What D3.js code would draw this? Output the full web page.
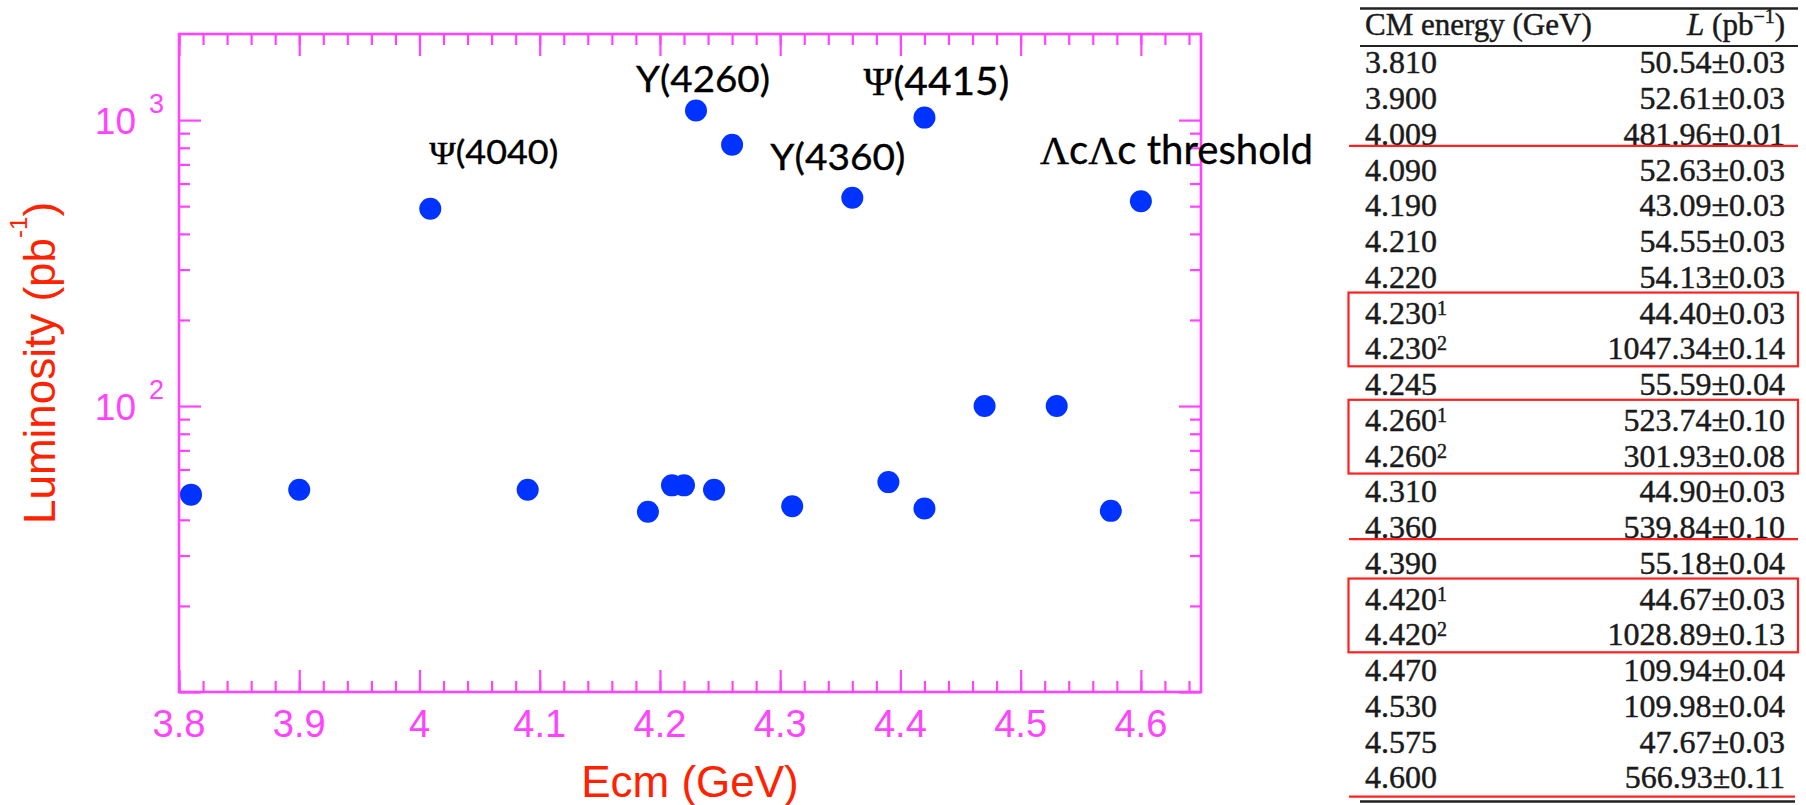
<!DOCTYPE html>
<html>
<head>
<meta charset="utf-8">
<script src="https://cdn.jsdelivr.net/npm/d3@7"></script>
<style>
  html, body { margin: 0; padding: 0; background: #ffffff; }
  svg { display: block; }
</style>
</head>
<body>
<svg id="chart" width="1806" height="805"></svg>
<script>
// ---- Scan points: centre-of-mass energy (GeV) and integrated luminosity (pb^-1)
const ecm  = [3.81, 3.90, 4.009, 4.09, 4.19, 4.21, 4.22, 4.23, 4.245, 4.26, 4.31, 4.36, 4.39, 4.42, 4.42, 4.47, 4.53, 4.575, 4.60];
const lumi = [49, 51, 490, 51, 42.7, 52.8, 52.8, 1080, 51, 820, 44.6, 535, 54.2, 1020, 43.8, 100, 100, 43, 520];

// ---- Axis ticks
const xMajorTicks = [3.8, 3.9, 4.0, 4.1, 4.2, 4.3, 4.4, 4.5, 4.6];
const xTickLabels = ["3.8", "3.9", "4", "4.1", "4.2", "4.3", "4.4", "4.5", "4.6"];
const xMinorTicks = d3.range(0, 43).map(i => +(3.8 + i * 0.02).toFixed(2));
const yMajorTicks = [10, 100, 1000];
const yLabelTicks = [100, 1000];
const yLabelExps  = ["2", "3"];
const yMinorTicks = [20, 30, 40, 50, 60, 70, 80, 90, 200, 300, 400, 500, 600, 700, 800, 900];

// ---- Resonance annotations and the energy of the point each one marks
const annoLabels = [["Ψ", "(4040)"], ["Y", "(4260)"], ["Y", "(4360)"], ["Ψ", "(4415)"], ["ΛcΛc", " threshold"]];
const annoEnergy = [4.009, 4.23, 4.36, 4.42, 4.60];

// ---- Luminosity table
const tableEnergy = ["3.810","3.900","4.009","4.090","4.190","4.210","4.220","4.230","4.230","4.245","4.260","4.260","4.310","4.360","4.390","4.420","4.420","4.470","4.530","4.575","4.600"];
const tableRun    = ["","","","","","","","1","2","","1","2","","","","1","2","","","",""];
const tableLumi   = ["50.54±0.03","52.61±0.03","481.96±0.01","52.63±0.03","43.09±0.03","54.55±0.03","54.13±0.03","44.40±0.03","1047.34±0.14","55.59±0.04","523.74±0.10","301.93±0.08","44.90±0.03","539.84±0.10","55.18±0.04","44.67±0.03","1028.89±0.13","109.94±0.04","109.98±0.04","47.67±0.03","566.93±0.11"];
const tableRuleRows = [2, 13];
const tableBoxRows  = [[7, 8], [10, 11], [15, 16]];

// ---------------------------------------------------------------
const MAGENTA = "#ff44ff", RED = "#ff2200", BLUE = "#0033ff";
const svg = d3.select("#chart");

const plot = { left: 179, right: 1201, top: 34, bottom: 692 };
const x = d3.scaleLinear().domain([3.8, 4.65]).range([plot.left, plot.right]);
const y = d3.scaleLog().domain([10, 2000]).range([plot.bottom, plot.top]);

function styleAxis(g) {
  g.select(".domain").remove();
  g.selectAll(".tick line").attr("stroke", MAGENTA).attr("stroke-width", 2.2);
  g.selectAll(".tick text").remove();
}

// X axis: bottom and top, ticks pointing into the frame
svg.append("g").attr("transform", `translate(0,${plot.bottom})`)
  .call(d3.axisBottom(x).tickValues(xMinorTicks).tickSizeInner(-11).tickSizeOuter(0)).call(styleAxis);
svg.append("g").attr("transform", `translate(0,${plot.bottom})`)
  .call(d3.axisBottom(x).tickValues(xMajorTicks).tickSizeInner(-22).tickSizeOuter(0)).call(styleAxis);
svg.append("g").attr("transform", `translate(0,${plot.top})`)
  .call(d3.axisTop(x).tickValues(xMinorTicks).tickSizeInner(-11).tickSizeOuter(0)).call(styleAxis);
svg.append("g").attr("transform", `translate(0,${plot.top})`)
  .call(d3.axisTop(x).tickValues(xMajorTicks).tickSizeInner(-22).tickSizeOuter(0)).call(styleAxis);

// Y axis: left and right
svg.append("g").attr("transform", `translate(${plot.left},0)`)
  .call(d3.axisLeft(y).tickValues(yMinorTicks).tickSizeInner(-11).tickSizeOuter(0)).call(styleAxis);
svg.append("g").attr("transform", `translate(${plot.left},0)`)
  .call(d3.axisLeft(y).tickValues(yMajorTicks).tickSizeInner(-22).tickSizeOuter(0)).call(styleAxis);
svg.append("g").attr("transform", `translate(${plot.right},0)`)
  .call(d3.axisRight(y).tickValues(yMinorTicks).tickSizeInner(-11).tickSizeOuter(0)).call(styleAxis);
svg.append("g").attr("transform", `translate(${plot.right},0)`)
  .call(d3.axisRight(y).tickValues(yMajorTicks).tickSizeInner(-22).tickSizeOuter(0)).call(styleAxis);

// Frame
svg.append("rect")
  .attr("x", plot.left).attr("y", plot.top)
  .attr("width", plot.right - plot.left).attr("height", plot.bottom - plot.top)
  .attr("fill", "none").attr("stroke", MAGENTA).attr("stroke-width", 2.6);

// X tick labels
svg.append("g").selectAll("text").data(xMajorTicks).join("text")
  .attr("x", d => x(d)).attr("y", plot.bottom + 45)
  .attr("text-anchor", "middle")
  .attr("font-family", "Liberation Sans, Arial, sans-serif").attr("font-size", 38)
  .attr("fill", MAGENTA)
  .text((d, i) => xTickLabels[i]);

// Y tick labels (10^n)
const yl = svg.append("g").selectAll("text").data(yLabelTicks).join("text")
  .attr("x", plot.left - 15).attr("y", d => y(d) + 13.5)
  .attr("text-anchor", "end")
  .attr("font-family", "Liberation Sans, Arial, sans-serif")
  .attr("fill", MAGENTA);
yl.append("tspan").attr("font-size", 37).text("10");
yl.append("tspan").attr("font-size", 27).attr("dx", 13).attr("dy", -21).text((d, i) => yLabelExps[i]);

// Axis titles
svg.append("text")
  .attr("x", (plot.left + plot.right) / 2).attr("y", 797)
  .attr("text-anchor", "middle")
  .attr("font-family", "Liberation Sans, Arial, sans-serif").attr("font-size", 44)
  .attr("fill", RED)
  .text("Ecm (GeV)");

const yt = svg.append("text")
  .attr("transform", `translate(55,${(plot.top + plot.bottom) / 2}) rotate(-90)`)
  .attr("text-anchor", "middle")
  .attr("font-family", "Liberation Sans, Arial, sans-serif").attr("font-size", 44)
  .attr("fill", RED);
yt.append("tspan").text("Luminosity (pb");
yt.append("tspan").attr("font-size", 24).attr("dy", -28).text("-1");
yt.append("tspan").attr("dy", 28).text(")");

// Data points
svg.append("g").selectAll("circle").data(ecm).join("circle")
  .attr("cx", d => x(d)).attr("cy", (d, i) => y(lumi[i]))
  .attr("r", 11).attr("fill", BLUE);

// Annotations, placed relative to the point they label
const annoLayout = [
  { dx: -1,   dy: -45, size: 32, width: 129 },
  { dx: -60,  dy: -19, size: 37, width: 134 },
  { dx: -82,  dy: -28, size: 36, width: 135 },
  { dx: -61,  dy: -23, size: 39, width: 146 },
  { dx: -101, dy: -37, size: 40, width: 273 }
];
annoLabels.forEach((parts, i) => {
  const idx = ecm.indexOf(annoEnergy[i]);
  const px = x(ecm[idx]), py = y(lumi[idx]);
  const L = annoLayout[i];
  const t = svg.append("text")
    .attr("x", px + L.dx).attr("y", py + L.dy)
    .attr("font-size", L.size).attr("fill", "#000")
    .attr("stroke", "#000").attr("stroke-width", 0.35)
    .attr("textLength", L.width).attr("lengthAdjust", "spacingAndGlyphs");
  if (parts[0] === "ΛcΛc") {
    t.append("tspan").attr("font-family", "Liberation Serif, serif").text("Λ");
    t.append("tspan").attr("font-family", "Lato, sans-serif").text("c");
    t.append("tspan").attr("font-family", "Liberation Serif, serif").text("Λ");
    t.append("tspan").attr("font-family", "Lato, sans-serif").text("c" + parts[1]);
  } else {
    t.append("tspan")
      .attr("font-family", parts[0] === "Ψ" ? "Liberation Serif, serif" : "Lato, sans-serif")
      .text(parts[0]);
    t.append("tspan").attr("font-family", "Lato, sans-serif").text(parts[1]);
  }
});

// ---- Table
const tbl = svg.append("g")
  .attr("font-family", "Liberation Serif, Times New Roman, serif")
  .attr("fill", "#1a1a1a").attr("stroke", "#1a1a1a").attr("stroke-width", 0.45);
const colLeft = 1365, colRight = 1785, tblLeft = 1360, tblRight = 1798;
const rowY = d3.scaleLinear().domain([0, tableEnergy.length - 1]).range([73.3, 788.3]);

// rules
tbl.append("line").attr("x1", tblLeft).attr("x2", tblRight).attr("y1", 8.5).attr("y2", 8.5)
  .attr("stroke", "#222").attr("stroke-width", 2.4);
tbl.append("line").attr("x1", tblLeft).attr("x2", tblRight).attr("y1", 46).attr("y2", 46)
  .attr("stroke", "#222").attr("stroke-width", 2.2);
tbl.append("line").attr("x1", tblLeft).attr("x2", 1795).attr("y1", 801.5).attr("y2", 801.5)
  .attr("stroke", "#222").attr("stroke-width", 2.6);

// header
const h1 = tbl.append("text").attr("x", colLeft).attr("y", 35).attr("font-size", 31);
h1.text("CM energy (GeV)");
const h2 = tbl.append("text").attr("x", colRight).attr("y", 35).attr("font-size", 31).attr("text-anchor", "end");
h2.append("tspan").attr("font-style", "italic").text("L");
h2.append("tspan").text(" (pb");
h2.append("tspan").attr("font-size", 20).attr("dy", -12).text("−1");
h2.append("tspan").attr("dy", 12).text(")");

// rows
const rows = tbl.selectAll("g.row").data(tableEnergy).join("g").attr("class", "row");
const e = rows.append("text").attr("x", colLeft).attr("y", (d, i) => rowY(i)).attr("font-size", 32);
e.append("tspan").text(d => d);
e.append("tspan").attr("font-size", 20).attr("dy", -9).text((d, i) => tableRun[i]);
rows.append("text").attr("x", colRight).attr("y", (d, i) => rowY(i))
  .attr("font-size", 32).attr("text-anchor", "end")
  .text((d, i) => tableLumi[i]);

// red highlight rules and boxes
const hl = svg.append("g").attr("fill", "none").attr("stroke", "#ff2020").attr("stroke-width", 2.2);
hl.selectAll("line.rule").data(tableRuleRows).join("line").attr("class", "rule")
  .attr("x1", 1349).attr("x2", tblRight)
  .attr("y1", d => rowY(d) + 1).attr("y2", d => rowY(d) + 1);
hl.append("line").attr("x1", 1349).attr("x2", 1795).attr("y1", 796.7).attr("y2", 796.7);
hl.selectAll("rect").data(tableBoxRows).join("rect")
  .attr("x", 1348.5).attr("width", tblRight - 1348.5)
  .attr("y", d => rowY(d[0]) - 31)
  .attr("height", d => rowY(d[1]) - rowY(d[0]) + 38);
</script>
</body>
</html>
